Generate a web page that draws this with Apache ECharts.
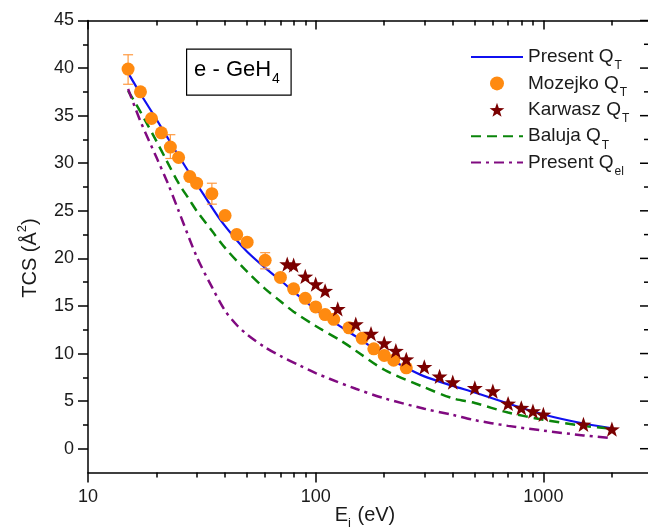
<!DOCTYPE html>
<html>
<head>
<meta charset="utf-8">
<script src="https://cdn.jsdelivr.net/npm/echarts@6/dist/echarts.min.js"></script>
<style>
  html, body { margin: 0; padding: 0; background: #fff; overflow: hidden; }
  #chart { width: 648px; height: 530px; }
</style>
</head>
<body>
<div id="chart"></div>
<script>
// ---------- data ----------
const energyPresent = [15, 17, 20, 23, 27, 32, 38, 45, 50, 60, 70, 80, 90, 100, 120, 150, 200, 250, 300, 400, 500, 700, 1000, 1500, 2000];
const tcsPresentT  = [39.5, 37.3, 34.6, 32.2, 29.5, 26.8, 24.1, 21.9, 20.7, 19.0, 17.7, 16.5, 15.5, 14.6, 13.3, 11.8, 9.8, 8.5, 7.6, 6.6, 5.9, 4.75, 3.6, 2.65, 2.15];

const energyMozejko = [15, 17, 19, 21, 23, 25, 28, 30, 35, 40, 45, 50, 60, 70, 80, 90, 100, 110, 120, 140, 160, 180, 200, 220, 250];
const tcsMozejko    = [39.9, 37.5, 34.7, 33.2, 31.7, 30.6, 28.6, 27.9, 26.8, 24.5, 22.5, 21.7, 19.8, 18.0, 16.8, 15.8, 14.9, 14.1, 13.6, 12.7, 11.6, 10.5, 9.8, 9.3, 8.5];

const errEnergy = [15, 23, 35, 60];
const errLow    = [38.3, 30.5, 25.7, 18.9];
const errHigh   = [41.4, 33.0, 27.9, 20.6];

const energyKarwasz = [75, 80, 90, 100, 110, 125, 150, 175, 200, 225, 250, 300, 350, 400, 500, 600, 700, 800, 900, 1000, 1500, 2000];
const tcsKarwasz    = [19.4, 19.3, 18.1, 17.3, 16.6, 14.7, 13.1, 12.1, 11.1, 10.3, 9.4, 8.6, 7.6, 7.0, 6.4, 6.05, 4.75, 4.3, 3.95, 3.6, 2.55, 2.05];

const energyBaluja = [15, 17, 20, 22, 25, 28, 30, 35, 40, 50, 60, 70, 80, 100, 130, 150, 200, 300, 400, 500, 700, 1000, 1500, 2000];
const tcsBaluja    = [37.6, 35.4, 32.3, 30.4, 27.9, 26.1, 25.0, 22.9, 21.1, 18.6, 16.8, 15.5, 14.4, 12.9, 11.3, 10.3, 8.3, 6.45, 5.3, 4.8, 3.8, 3.05, 2.4, 2.1];

const energyEl = [15, 17, 20, 22.5, 25, 30, 35, 40, 45, 50, 60, 70, 85, 100, 115, 150, 200, 300, 400, 500, 700, 1000, 1500, 2000];
const tcsEl    = [37.8, 34.4, 30.6, 27.8, 25.0, 20.2, 17.0, 14.5, 13.0, 12.0, 10.65, 9.75, 8.75, 7.95, 7.35, 6.3, 5.3, 4.2, 3.55, 3.0, 2.4, 1.9, 1.4, 1.1];

const xMajorTicks = [10, 100, 1000];
const xMinorTicks = [20, 30, 40, 50, 60, 70, 80, 90, 200, 300, 400, 500, 600, 700, 800, 900, 2000];
const yMajorTicks = [0, 5, 10, 15, 20, 25, 30, 35, 40, 45];
const yMinorTicks = [2.5, 7.5, 12.5, 17.5, 22.5, 27.5, 32.5, 37.5, 42.5];

const seriesNames = ['Present Q_T', 'Mozejko Q_T', 'Karwasz Q_T', 'Baluja Q_T', 'Present Q_el'];
const lineSeriesNames = ['Present Q_T', 'Baluja Q_T', 'Present Q_el'];

// ---------- chart ----------
const zip = (a, b) => a.map((v, i) => [v, b[i]]);
const FONT = '"Liberation Sans", Arial, sans-serif';
const STAR = 'path://M0,-50L11.76,-16.18L47.55,-15.45L19.02,6.18L29.39,40.45L0,20L-29.39,40.45L-19.02,6.18L-47.55,-15.45L-11.76,-16.18Z';

const chart = echarts.init(document.getElementById('chart'), null, { renderer: 'canvas' });

const axisLineStyle = { color: '#000', width: 1.5 };
const gridBox = { left: 88, right: -4, top: 20.5, bottom: 57.5, outerBoundsMode: 'none', containLabel: false };
const xRange = { min: 10, max: 3000 };
const yRange = { min: -2.5, max: 45 };

function xAxisDef(gridIndex, position, ticks, len, inside, showLine, showLabel) {
  return {
    type: 'log', logBase: 10, gridIndex, position, ...xRange,
    axisLine: { show: showLine, onZero: false, lineStyle: axisLineStyle },
    axisTick: { show: true, inside, length: len, customValues: ticks, lineStyle: { color: '#000', width: 1.5 } },
    axisLabel: { show: showLabel, customValues: ticks, formatter: v => String(v), margin: 16, fontSize: 18, fontFamily: FONT, color: '#1a1a1a' },
    splitLine: { show: false }, minorTick: { show: false }
  };
}
function yAxisDef(gridIndex, position, ticks, len, inside, showLine, showLabel) {
  return {
    type: 'value', gridIndex, position, ...yRange,
    axisLine: { show: showLine, onZero: false, lineStyle: axisLineStyle },
    axisTick: { show: true, inside, length: len, customValues: ticks, lineStyle: { color: '#000', width: 1.5 } },
    axisLabel: { show: showLabel, customValues: ticks, margin: 14, fontSize: 18, fontFamily: FONT, color: '#1a1a1a' },
    splitLine: { show: false }
  };
}

const baseGraphic = [
  {
    type: 'rect', left: 186, top: 48.5, z: 10,
    shape: { width: 104.5, height: 46 },
    style: { fill: '#fff', stroke: '#000', lineWidth: 1.2 }
  },
  {
    type: 'text', x: 237, y: 70, z: 11,
    style: {
      text: '{n|e - GeH}{s|4}', align: 'center', verticalAlign: 'middle',
      rich: {
        n: { fontSize: 22, lineHeight: 24, fontFamily: FONT, fill: '#000' },
        s: { fontSize: 14, lineHeight: 14, padding: [18, 0, 0, 1], fontFamily: FONT, fill: '#000' }
      }
    }
  },
  {
    type: 'text', x: 365, y: 515, z: 11,
    style: {
      text: '{n|E}{s|i}{n| (eV)}', align: 'center', verticalAlign: 'middle',
      rich: {
        n: { fontSize: 20, lineHeight: 22, fontFamily: FONT, fill: '#1a1a1a' },
        s: { fontSize: 13, lineHeight: 13, padding: [16, 1, 0, 0], fontFamily: FONT, fill: '#1a1a1a' }
      }
    }
  },
  {
    type: 'text', x: 30, y: 258, rotation: Math.PI / 2, z: 11,
    style: {
      text: '{n|TCS (Å}{s|2}{n|)}', align: 'center', verticalAlign: 'middle',
      rich: {
        n: { fontSize: 20, lineHeight: 22, fontFamily: FONT, fill: '#1a1a1a' },
        s: { fontSize: 13, lineHeight: 13, padding: [0, 0, 16, 0], fontFamily: FONT, fill: '#1a1a1a' }
      }
    }
  }
];

const option = {
  backgroundColor: '#fff',
  animation: false,
  grid: [ Object.assign({}, gridBox), Object.assign({}, gridBox) ],
  xAxis: [
    xAxisDef(0, 'bottom', xMajorTicks, 10, false, true, true),
    xAxisDef(0, 'top', xMajorTicks, 9, true, true, false),
    xAxisDef(1, 'bottom', xMinorTicks, 5, false, false, false),
    xAxisDef(1, 'top', xMinorTicks, 5, true, false, false)
  ],
  yAxis: [
    yAxisDef(0, 'left', yMajorTicks, 10, false, true, true),
    yAxisDef(1, 'left', yMinorTicks, 5, false, false, false)
  ],
  legend: {
    data: seriesNames.map(n => lineSeriesNames.includes(n) ? { name: n, itemStyle: { opacity: 0 } } : { name: n }),
    orient: 'vertical',
    left: 465, top: 37,
    itemWidth: 52, itemHeight: 14, itemGap: -3.6,
    formatter: name => {
      const m = name.match(/^(.*)_(\w+)$/);
      return '{n|' + m[1] + '}{s|' + m[2] + '}';
    },
    textStyle: {
      fontFamily: FONT, color: '#1a1a1a',
      rich: {
        n: { fontSize: 19, lineHeight: 20, fontFamily: FONT, color: '#1a1a1a' },
        s: { fontSize: 12, lineHeight: 12, padding: [18, 0, 0, 1], fontFamily: FONT, color: '#1a1a1a' }
      }
    }
  },
  series: [
    {
      name: 'Present Q_T', type: 'line', xAxisIndex: 0, yAxisIndex: 0,
      data: zip(energyPresent, tcsPresentT), smooth: 0.3, symbol: 'none',
      lineStyle: { color: '#1010f0', width: 2.2 }, itemStyle: { color: '#1010f0' }, z: 2
    },
    {
      name: 'Baluja Q_T', type: 'line', xAxisIndex: 0, yAxisIndex: 0,
      data: zip(energyBaluja, tcsBaluja), smooth: 0.3, symbol: 'none',
      lineStyle: { color: '#0a850a', width: 2.5, type: [10, 6] }, itemStyle: { color: '#0a850a' }, z: 2
    },
    {
      name: 'Present Q_el', type: 'line', xAxisIndex: 0, yAxisIndex: 0,
      data: zip(energyEl, tcsEl), smooth: 0.3, symbol: 'none',
      lineStyle: { color: '#800a80', width: 2.5, type: [10, 5, 3, 5] }, itemStyle: { color: '#800a80' }, z: 2
    },
    {
      name: 'Mozejko errors', type: 'custom', xAxisIndex: 0, yAxisIndex: 0,
      data: errEnergy.map((e, i) => [e, errLow[i], errHigh[i]]),
      encode: { x: 0, y: [1, 2] }, z: 3,
      renderItem: (params, api) => {
        const e = api.value(0);
        const lo = api.coord([e, api.value(1)]);
        const hi = api.coord([e, api.value(2)]);
        const w = 5, st = { stroke: '#ff9a40', lineWidth: 1.2 };
        return { type: 'group', children: [
          { type: 'line', shape: { x1: lo[0], y1: lo[1], x2: hi[0], y2: hi[1] }, style: st },
          { type: 'line', shape: { x1: lo[0] - w, y1: lo[1], x2: lo[0] + w, y2: lo[1] }, style: st },
          { type: 'line', shape: { x1: hi[0] - w, y1: hi[1], x2: hi[0] + w, y2: hi[1] }, style: st }
        ] };
      }
    },
    {
      name: 'Mozejko Q_T', type: 'scatter', xAxisIndex: 0, yAxisIndex: 0,
      data: zip(energyMozejko, tcsMozejko), symbol: 'circle', symbolSize: 13,
      itemStyle: { color: '#ff8a10', opacity: 1 }, z: 4
    },
    {
      name: 'Karwasz Q_T', type: 'scatter', xAxisIndex: 0, yAxisIndex: 0,
      data: zip(energyKarwasz, tcsKarwasz), symbol: STAR, symbolKeepAspect: true, symbolSize: 16,
      itemStyle: { color: '#7a0000', opacity: 1 }, z: 5
    }
  ],
  graphic: baseGraphic
};

chart.setOption(option);

// Inward ticks on the right frame edge (frame itself lies just past the canvas):
// y positions come from the chart's own y scale.
const canvasRight = chart.getWidth();
function rightTickGraphics(ticks, len) {
  return ticks.map(v => {
    const y = chart.convertToPixel({ yAxisIndex: 0 }, v);
    return {
      type: 'line', z: 12, silent: true,
      shape: { x1: canvasRight - 1 - len, y1: y, x2: canvasRight, y2: y },
      style: { stroke: '#000', lineWidth: 1.5 }
    };
  });
}
chart.setOption({
  graphic: baseGraphic.concat(rightTickGraphics(yMajorTicks, 7), rightTickGraphics(yMinorTicks, 3))
});
</script>
</body>
</html>
